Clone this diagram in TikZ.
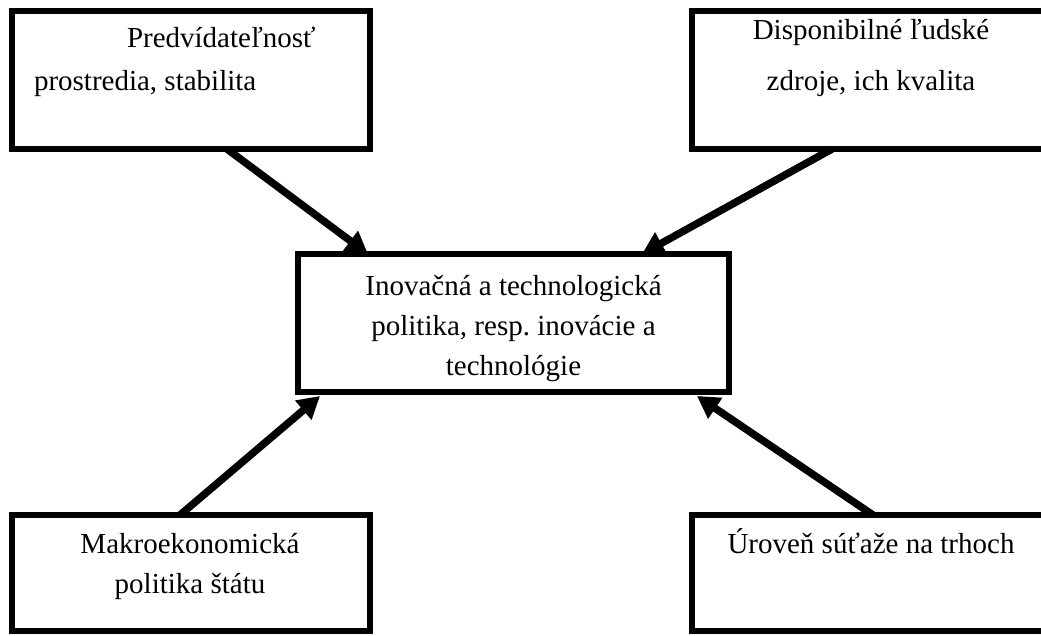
\documentclass[tikz,border=0pt]{standalone}
\usepackage{fontspec}
\setmainfont{Liberation Serif}
\usetikzlibrary{arrows.meta}
\begin{document}
\begin{tikzpicture}[x=1pt,y=-1pt,
  box/.style={draw=black, line width=6pt, inner sep=0pt, outer sep=0pt, fill=white},
  txt/.style={inner sep=0pt, outer sep=0pt, font=\fontsize{29}{35}\selectfont},
  arr/.style={line width=7.5pt, -{Triangle[length=22pt,width=24pt]}}]
\fill[white] (0,0) rectangle (1041,635);
\useasboundingbox (0,0) rectangle (1041,635);
% boxes
\node[box, minimum width=358.5pt, minimum height=138pt] (tl) at (190.75,80) {};
\node[box, minimum width=358pt, minimum height=138pt] (tr) at (871,80) {};
\node[box, minimum width=431pt, minimum height=138pt] (c) at (513.5,323) {};
\node[box, minimum width=358pt, minimum height=115.5pt] (bl) at (191,572.75) {};
\node[box, minimum width=358pt, minimum height=115.5pt] (br) at (871,572.75) {};
% texts
\node[txt, anchor=base west] (tl1) at (127,47) {Predvídateľnosť};
\node[txt, anchor=base west] (tl2) at (34,90) {prostredia, stabilita};
\node[txt, anchor=base] (tr1) at (871,39) {Disponibilné ľudské};
\node[txt, anchor=base] (tr2) at (871,90) {zdroje, ich kvalita};
\node[txt, anchor=base] (c1) at (513.5,295) {Inovačná a technologická};
\node[txt, anchor=base] (c2) at (513.5,335) {politika, resp.\ inovácie a};
\node[txt, anchor=base] (c3) at (513.5,375) {technológie};
\node[txt, anchor=base] (bl1) at (190,553) {Makroekonomická};
\node[txt, anchor=base] (bl2) at (190,593) {politika štátu};
\node[txt, anchor=base] (br1) at (871,553) {Úroveň súťaže na trhoch};
% arrows
\draw[arr] ([xshift=215.5pt]tl.south west) -- ([xshift=70pt]c.north west);
\draw[arr] ([xshift=140pt]tr.south west) -- ([xshift=344pt]c.north west);
\draw[arr] ([xshift=168pt]bl.north west) -- ([xshift=22pt,yshift=-4pt]c.south west);
\draw[arr] ([xshift=181pt]br.north west) -- ([xshift=399pt,yshift=-4pt]c.south west);
\end{tikzpicture}
\end{document}
